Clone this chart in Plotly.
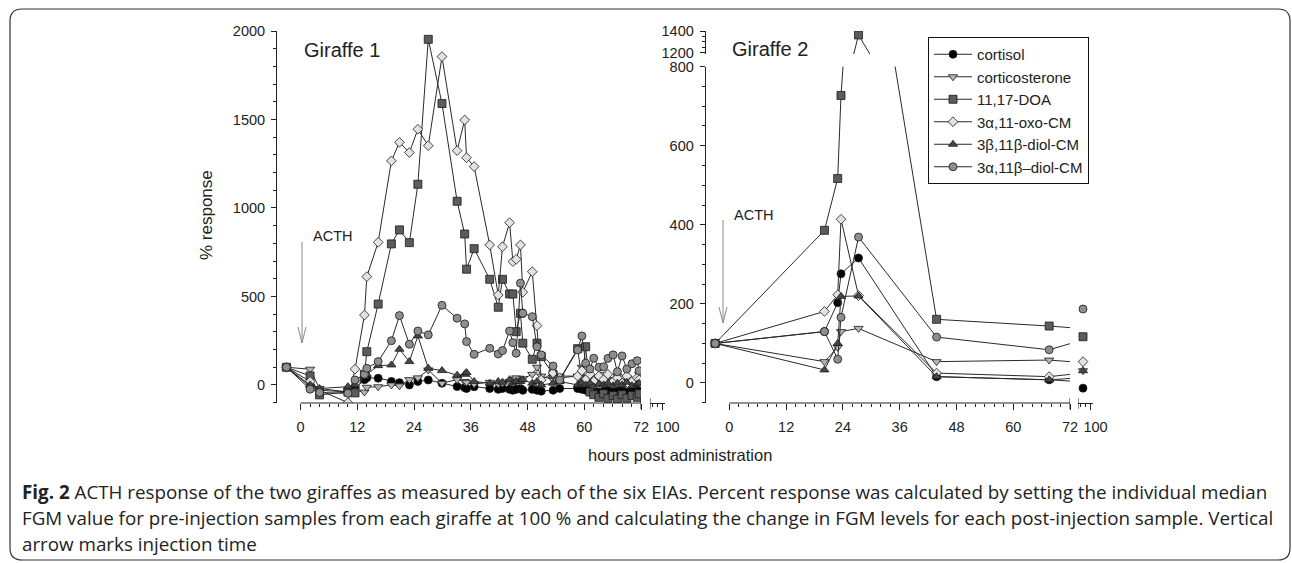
import plotly.graph_objects as go

W, H = 1292, 563

# ---------------- data ----------------
series_names = ["cortisol", "corticosterone", "11,17-DOA", "3α,11-oxo-CM",
                "3β,11β-diol-CM", "3α,11β–diol-CM"]

# Giraffe 1 sampling times (hours post administration)
t_g1 = [-3, 2, 4, 10, 11.5, 13.5, 14, 16.4, 19.2, 20.9, 23, 24.8, 27, 29.9, 33.1,
        34.7, 35.1, 36.7, 40, 41.8, 42.7, 44.2, 44.9, 45.6, 46.5, 47, 49, 50, 50.9,
        53.4, 54.8, 58.6, 59.5, 60.3, 61.2, 62.0, 63.1, 64.1, 65.0, 66.1, 67.0,
        68.0, 69.0, 70.1, 71.2, 71.6]
cortisol_g1 = [100, -10, -30, -40, -20, 30, 40, 38, 20, 13, 0, 20, 28, 10, -9, -15,
               -20, -10, -20, -25, -20, -25, -30, -25, -20, -30, -25, -30, -35, -30,
               -20, -20, -25, -30, -35, -30, -40, -35, -30, -40, -35, -30, -40, -35,
               -30, -35]
corticosterone_g1 = [100, 89, -20, -40, -30, -40, -13, -10, 0, -5, 30, 40, 85, 10, 30,
                     20, 15, 5, 15, 5, 10, 20, 30, 40, 20, 35, 60, 100, 50, 30, 50, 50,
                     100, 30, 20, 40, 10, 60, 20, 30, 50, 20, 40, 10, 30, 60]
doa_g1 = [100, 51, -56, -40, -45, 60, 188, 457, 797, 876, 804, 1134, 1953, 1590, 1038,
          853, 654, 770, 597, 439, 597, 514, 514, 301, 405, 236, 145, 236, 160, 60, 30,
          205, 30, 216, -40, -55, -70, -50, -75, -60, -80, -55, -75, -60, -70, -50]
oxo_g1 = [100, 20, -30, -100, 89, 395, 612, 806, 1266, 1371, 1313, 1445, 1352, 1855,
          1324, 1497, 1284, 1234, 791, 508, 781, 917, 697, 710, 791, 524, 640, 335, 28,
          68, 40, 50, 80, 30, 60, 20, 50, 30, 60, 20, 40, 10, 50, 20, 40, 30]
b_diol_g1 = [100, 0, -20, -10, 0, 47, 60, 109, 113, 202, 132, 277, 94, 81, 55, 60, 70,
             20, 10, 20, 15, 30, 10, 20, 20, 30, 10, 20, 0, 10, 20, 0, 10, 0, 10, -10,
             5, 0, 10, -5, 10, 0, 15, -5, 5, 10]
a_diol_g1 = [100, -24, -43, -47, 28, 60, 94, 132, 250, 392, 230, 305, 283, 450, 377,
             345, 245, 173, 207, 175, 194, 305, 239, 179, 575, 405, 386, 216, 170, 107,
             28, 198, 277, 123, 90, 151, 100, 103, 150, 170, 75, 164, 90, 120, 137, 80]

# Giraffe 2 sampling times (hours post administration)
t_g2 = [-3, 20.1, 22.9, 23.6, 27.3, 43.8, 67.6, 97]
cortisol_g2 = [100, 130, 203, 276, 316, 16, 8, -13]
corticosterone_g2 = [100, 54, 90, 130, 138, 54, 58, 31]
doa_g2 = [100, 386, 517, 727, 1364, 161, 144, 117]
oxo_g2 = [100, 181, 223, 414, 221, 25, 16, 54]
b_diol_g2 = [100, 33, 100, 219, 220, 16, 8, 31]
a_diol_g2 = [100, 130, 60, 166, 369, 116, 84, 187]

x_ticks = [0, 12, 24, 36, 48, 60, 72]
x_break_tick = [100]

# ---------------- styles ----------------
styles = [
    dict(symbol="circle", size=8, color="#000000"),
    dict(symbol="triangle-down", size=8, color="#b5b5b5"),
    dict(symbol="square", size=8, color="#5c5c5c"),
    dict(symbol="diamond", size=7.5, color="#e2e2e2"),
    dict(symbol="triangle-up", size=8, color="#474747"),
    dict(symbol="circle", size=8, color="#8e8e8e"),
]
g1 = [cortisol_g1, corticosterone_g1, doa_g1, oxo_g1, b_diol_g1, a_diol_g1]
g2 = [cortisol_g2, corticosterone_g2, doa_g2, oxo_g2, b_diol_g2, a_diol_g2]


def PX(x):
    return x / W


def PY(y):
    return 1 - y / H


fig = go.Figure()


def add(xs, ys, i, xa, ya, legend=False, mode="lines+markers"):
    s = styles[i]
    fig.add_trace(go.Scatter(
        x=xs, y=ys, mode=mode, name=series_names[i], showlegend=legend,
        xaxis=xa, yaxis=ya,
        line=dict(color="#2a2a2a", width=1),
        marker=dict(symbol=s["symbol"], size=s["size"], color=s["color"],
                    line=dict(color="#1a1a1a", width=0.8)),
    ))


for i in range(6):
    add(t_g1, g1[i], i, "x", "y", legend=True)
for i in range(6):
    add(t_g2, g2[i], i, "x3", "y3")
# upper (broken) segment of giraffe 2 y axis
add(t_g2, doa_g2, 2, "x3", "y4")
# last sample on the broken x-axis segment of giraffe 2
for i in range(6):
    add(t_g2[-1:], g2[i][-1:], i, "x4", "y3", mode="markers")

tickfont = dict(family="Liberation Sans, Arial", size=14.5, color="#222")
common = dict(showgrid=False, zeroline=False, ticks="outside", tickcolor="#222",
              tickwidth=1, tickfont=tickfont, linecolor="#222", linewidth=1,
              automargin=False)

minor_x = [v for v in range(2, 72, 2) if v % 12 != 0]
xmain = dict(common, range=[-5, 72], tickmode="array", tickvals=x_ticks, ticklen=6,
             showline=False, ticklabelstandoff=5,
             minor=dict(tickmode="array", tickvals=minor_x, ticklen=3, ticks="outside",
                        tickcolor="#222"))
xseg = dict(common, range=[95, 101], tickmode="array", tickvals=x_break_tick, ticklen=6,
            showline=True, ticklabelstandoff=5, ticklabelshift=5,
            minor=dict(tickmode="array", tickvals=[96, 98], ticklen=3, ticks="outside",
                       tickcolor="#222"))

y_bot = 403
fig.update_layout(
    width=W, height=H, margin=dict(l=0, r=0, t=0, b=0, pad=0, autoexpand=False),
    paper_bgcolor="white", plot_bgcolor="white",
    font=dict(family="Liberation Sans, Arial", color="#222"),
    xaxis=dict(xmain, domain=[PX(277), PX(641)], anchor="y"),
    yaxis=dict(common, domain=[PY(y_bot), PY(31)], anchor="x", range=[-102, 2000],
               showline=True, tickmode="linear", tick0=0, dtick=500, ticklen=5,
               ticklabelstandoff=3,
               minor=dict(dtick=100, ticklen=3, ticks="outside", tickcolor="#222")),
    xaxis2=dict(xseg, domain=[PX(650), PX(665)], anchor="y"),
    xaxis3=dict(xmain, domain=[PX(705.7), PX(1070)], anchor="y3"),
    yaxis3=dict(common, domain=[PY(y_bot), PY(66.6)], anchor="x3", range=[-50.6, 800],
                showline=True, tickmode="linear", tick0=0, dtick=200, ticklen=5,
                ticklabelstandoff=3,
                minor=dict(dtick=50, ticklen=3, ticks="outside", tickcolor="#222")),
    yaxis4=dict(common, domain=[PY(54), PY(31)], anchor="x3", range=[1190, 1400],
                showline=True, tickmode="array", tickvals=[1200, 1400], ticklen=5,
                ticklabelstandoff=3,
                minor=dict(dtick=50, ticklen=3, ticks="outside", tickcolor="#222")),
    xaxis4=dict(xseg, domain=[PX(1078), PX(1093)], anchor="y3"),
    legend=dict(x=PX(928), y=PY(37), xanchor="left", yanchor="top",
                bordercolor="#111", borderwidth=1, bgcolor="white",
                font=dict(family="Liberation Sans, Arial", size=15, color="#222"),
                tracegroupgap=0, itemwidth=38),
)

shapes = []
# x axis lines from 0 to 72 (offset from y axis) and break marks
for xa in ["x", "x3"]:
    shapes.append(dict(type="line", xref=xa, yref="paper", x0=0, x1=72,
                       y0=PY(y_bot), y1=PY(y_bot), line=dict(color="#222", width=1)))
    shapes.append(dict(type="line", xref=xa, yref="paper", x0=72, x1=72,
                       y0=PY(398), y1=PY(409), line=dict(color="#222", width=1)))
for xa in ["x2", "x4"]:
    shapes.append(dict(type="line", xref=xa, yref="paper", x0=95, x1=95,
                       y0=PY(398), y1=PY(409), line=dict(color="#222", width=1)))


# ACTH arrows
def arrow(px, top, bot):
    c = dict(color="#8a8a8a", width=1)
    shapes.append(dict(type="line", xref="paper", yref="paper", x0=PX(px), x1=PX(px),
                       y0=PY(top), y1=PY(bot), line=c))
    shapes.append(dict(type="line", xref="paper", yref="paper", x0=PX(px - 4), x1=PX(px),
                       y0=PY(bot - 16), y1=PY(bot), line=c))
    shapes.append(dict(type="line", xref="paper", yref="paper", x0=PX(px + 4), x1=PX(px),
                       y0=PY(bot - 16), y1=PY(bot), line=c))


arrow(302, 242, 343)
arrow(723, 220, 323)

# rounded caption/figure frame
L, T, R, B, r = 10, 9, 1290, 560, 12
path = (f"M {PX(L + r)},{PY(T)} L {PX(R - r)},{PY(T)} Q {PX(R)},{PY(T)} {PX(R)},{PY(T + r)} "
        f"L {PX(R)},{PY(B - r)} Q {PX(R)},{PY(B)} {PX(R - r)},{PY(B)} "
        f"L {PX(L + r)},{PY(B)} Q {PX(L)},{PY(B)} {PX(L)},{PY(B - r)} "
        f"L {PX(L)},{PY(T + r)} Q {PX(L)},{PY(T)} {PX(L + r)},{PY(T)} Z")
shapes.append(dict(type="path", xref="paper", yref="paper", path=path,
                   line=dict(color="#333", width=1.2)))
fig.update_layout(shapes=shapes)

ann = []


def text(s, px, py, size, xanchor="left", angle=0, family="Liberation Sans, Arial",
         color="#222"):
    ann.append(dict(text=s, x=PX(px), y=PY(py), xref="paper", yref="paper",
                    xanchor=xanchor, yanchor="middle", showarrow=False, textangle=angle,
                    font=dict(family=family, size=size, color=color)))


text("Giraffe 1", 302, 50, 20)
text("Giraffe 2", 730, 49, 20)
text("ACTH", 311, 236, 14.5)
text("ACTH", 732, 215, 14.5)
text("% response", 207, 215, 17, xanchor="center", angle=-90)
text("hours post administration", 680, 455, 16.5, xanchor="center")

cap_font = "Open Sans, Noto Sans"
text("<b>Fig. 2</b> ACTH response of the two giraffes as measured by each of the six EIAs. "
     "Percent response was calculated by setting the individual median", 20, 492, 18.8,
     family=cap_font)
text("FGM value for pre-injection samples from each giraffe at 100 % and calculating the "
     "change in FGM levels for each post-injection sample. Vertical", 20, 518, 18.8,
     family=cap_font)
text("arrow marks injection time", 20, 544, 18.8, family=cap_font)
fig.update_layout(annotations=ann)

fig.write_html("out.html")
